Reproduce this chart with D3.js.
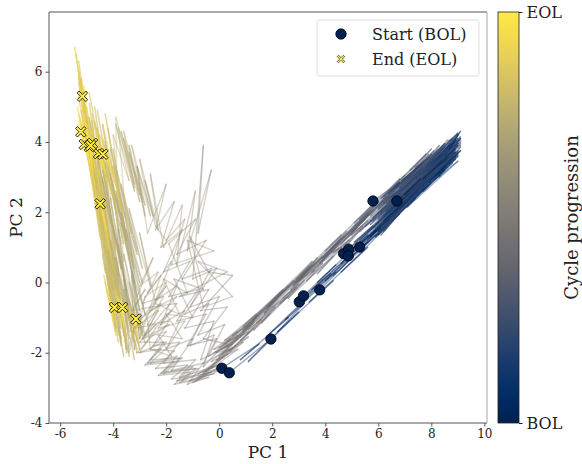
<!DOCTYPE html>
<html>
<head>
<meta charset="utf-8">
<script src="https://cdn.jsdelivr.net/npm/d3@7"></script>
<style>
  body { margin: 0; background: #fff; }
  svg { display: block; font-family: "DejaVu Serif", serif; }
</style>
</head>
<body>
<svg id="chart" width="582" height="464"></svg>
<script>
// start / end of each cell
const startPts = [[0.10,-2.44],[0.38,-2.57],[1.95,-1.61],[3.02,-0.55],[3.18,-0.38],[3.79,-0.21],
                  [4.69,0.82],[4.88,0.95],[4.87,0.76],[5.30,1.01],[5.80,2.32],[6.70,2.32]];
const endPts = [[-5.16,5.30],[-5.22,4.29],[-5.09,3.93],[-4.90,3.87],[-4.78,3.96],[-4.55,3.67],
                [-4.39,3.65],[-4.49,2.24],[-3.95,-0.71],[-3.65,-0.71],[-3.14,-1.04],[-4.85,3.90]];

// PC1/PC2 of every cycle, per cell, in cycle order
const cell01 = [[0.10,-2.44],[1.5,-1.75],[0.8,-2.20],[2.6,-1.00],[1.9,-1.45],[3.7,-0.15],[2.9,-0.60],[4.9,0.75],[4.0,0.05],[6.1,1.55],[5.2,1.05],[7.3,2.40],[6.4,1.85],[8.4,3.20],[7.6,2.70],[8.9,3.55],
  [6.2,1.70],[8.6,3.70],[5.8,1.55],[8.1,3.35],[6.5,2.20],[9.0,3.70],[6.0,1.35],[8.7,3.40],[7.0,2.75],[9.1,4.10],
  [8.3,3.70],[7.0,2.65],[7.6,3.25],[6.0,1.95],[6.6,2.50],[5.0,1.35],[5.6,1.75],[4.0,0.75],[4.6,1.00],[3.0,0.05],[3.6,0.35],[2.0,-0.70],[2.6,-0.40],[1.1,-1.35],[1.6,-1.05],[0.4,-1.95],[0.9,-1.70],[-0.2,-2.35],
  [-0.8,-2.70],[-0.2,-2.60],[-1.5,-2.85],[-0.9,-2.45],[-2.1,-2.60],[-1.4,-2.15],[-2.6,-2.30],[-1.9,-1.80],[-1.3,-1.10],[-2.3,-1.30],[-1.6,-0.60],[-2.6,-0.70],[-2.0,-0.10],[-2.9,-1.20],
  [-3.0,-1.6],[-3.3,0.6],[-2.8,-0.9],[-3.5,1.5],[-2.9,0.0],[-3.8,2.6],[-3.1,0.8],[-4.0,3.3],[-3.4,1.4],[-4.3,4.0],
  [-3.6,-1.5],[-4.5,3.0],[-3.8,-0.8],[-4.8,4.2],[-4.0,-0.2],[-5.0,5.0],[-4.2,0.6],[-5.2,5.8],[-4.4,1.4],[-5.3,6.3],[-4.5,2.0],[-5.45,6.7],[-4.6,2.6],[-5.3,6.0],[-4.7,3.2],[-5.2,5.6],[-4.8,3.6],[-5.3,5.9],[-4.9,4.2],[-5.1,5.6],[-5.0,4.8],[-5.16,5.30]];
const cell02 = [[0.38,-2.57],[1.8,-1.70],[1.1,-2.25],[3.0,-0.85],[2.2,-1.40],[4.3,0.05],[3.4,-0.55],[5.6,1.00],[4.6,0.30],[6.8,1.95],[5.9,1.30],[8.0,2.85],[7.1,2.15],[9.0,3.45],[8.1,2.90],[9.1,3.85],
  [6.0,1.45],[8.7,3.75],[5.6,1.30],[8.2,3.10],[6.4,2.30],[9.0,3.95],[6.2,1.55],[8.5,3.20],[7.1,2.80],[9.1,4.05],
  [8.6,4.05],[7.3,2.95],[7.9,3.55],[6.3,2.05],[6.9,2.70],[5.3,1.45],[5.9,1.85],[4.3,0.85],[4.9,1.20],[3.3,0.05],[3.9,0.55],[2.3,-0.60],[2.9,-0.15],[1.3,-1.35],[1.9,-0.90],[0.6,-1.80],[1.1,-1.55],[0.0,-2.15],
  [-0.6,-2.60],[0.0,-2.50],[-1.2,-2.90],[-0.6,-2.30],[-1.8,-2.50],[-1.0,-1.60],[-2.0,-1.90],[-1.3,-0.80],[-2.2,-1.20],[-1.6,-0.10],[-2.4,-0.50],[-1.8,0.60],[-2.7,-0.30],[-2.2,0.20],
  [-3.0,-1.6],[-3.4,0.8],[-3.0,-0.8],[-3.7,1.7],[-3.2,0.0],[-3.9,2.4],[-3.3,0.6],[-4.1,3.0],[-3.5,1.2],[-4.3,3.6],
  [-3.7,-1.7],[-4.6,3.4],[-3.9,-1.0],[-4.9,4.4],[-4.1,-0.3],[-5.1,5.2],[-4.3,0.5],[-5.3,5.7],[-4.5,1.3],[-5.2,4.9],[-4.6,1.9],[-5.3,5.3],[-4.7,2.5],[-5.3,4.8],[-4.8,3.0],[-5.35,5.0],[-4.9,3.4],[-5.3,4.6],[-5.0,3.7],[-5.35,4.5],[-5.1,4.0],[-5.22,4.29]];
const cell03 = [[1.95,-1.61],[3.2,-0.60],[2.5,-1.05],[4.4,0.30],[3.6,-0.20],[5.6,1.15],[4.8,0.60],[6.8,2.00],[6.0,1.45],[7.9,2.80],[7.1,2.25],[8.8,3.40],[8.0,2.95],[9.0,3.70],[8.4,3.20],[8.7,3.55],
  [5.9,1.30],[8.5,3.70],[6.3,2.05],[8.9,3.50],[5.7,1.65],[8.3,3.55],[6.6,1.90],[9.0,4.00],[6.1,1.95],[8.8,3.85],
  [8.0,3.55],[6.9,2.60],[7.4,3.05],[5.9,1.90],[6.4,2.40],[4.8,1.05],[5.4,1.60],[3.7,0.25],[4.3,0.75],[2.6,-0.45],[3.2,0.05],[1.6,-1.15],[2.1,-0.70],[0.8,-1.65],[1.3,-1.30],[0.3,-2.05],[0.7,-1.90],[-0.2,-2.40],
  [-0.9,-2.80],[-0.3,-2.55],[-1.6,-2.80],[-1.0,-2.40],[-2.2,-2.60],[-1.6,-2.10],[-2.7,-2.30],[-2.1,-1.70],[-3.0,-2.00],[-2.4,-1.30],[-1.8,-0.80],[-2.8,-1.50],[-2.2,-0.60],[-3.1,-1.10],
  [-3.4,-2.0],[-3.6,0.2],[-3.2,-1.4],[-3.8,0.9],[-3.3,-0.8],[-4.0,1.6],[-3.5,-0.2],[-4.2,2.3],[-3.7,0.4],[-4.4,2.9],
  [-3.5,-1.9],[-4.5,2.6],[-3.7,-1.3],[-4.7,3.4],[-3.9,-0.6],[-4.9,4.2],[-4.1,0.1],[-5.0,4.7],[-4.3,0.8],[-5.1,4.9],[-4.4,1.4],[-5.2,4.5],[-4.5,2.0],[-5.1,4.3],[-4.6,2.5],[-5.2,4.6],[-4.7,2.9],[-5.1,4.2],[-4.8,3.2],[-5.2,4.4],[-4.95,3.6],[-5.09,3.93]];
const cell04 = [[3.02,-0.55],[4.2,0.25],[3.5,-0.20],[5.4,1.10],[4.6,0.55],[6.6,1.95],[5.8,1.40],[7.7,2.70],[6.9,2.15],[8.6,3.30],[7.9,2.85],[9.1,3.75],[8.4,3.25],[9.0,4.10],[8.2,3.40],[8.8,3.60],
  [6.1,1.50],[8.9,4.00],[5.5,1.60],[8.4,3.30],[6.7,2.45],[9.1,3.75],[6.0,1.70],[8.6,3.85],[7.2,2.50],[8.9,3.50],
  [7.8,3.30],[8.3,3.90],[6.8,2.70],[7.4,3.20],[5.7,1.90],[6.3,2.45],[4.6,1.10],[5.2,1.55],[3.5,0.30],[4.1,0.80],[2.4,-0.45],[3.0,-0.05],[1.4,-1.15],[2.0,-0.70],[0.6,-1.60],[1.1,-1.40],[0.1,-1.90],[0.5,-1.75],
  [-0.4,-2.10],[0.2,-1.20],[-0.8,-1.50],[0.0,-0.40],[-1.1,-0.70],[-0.3,0.40],[-1.4,0.10],[-0.5,1.20],[-1.6,0.80],[-0.9,1.80],[-1.9,1.10],[-1.2,-0.30],[-2.1,0.10],[-1.5,-0.90],
  [-2.4,-0.6],[-3.0,1.4],[-2.6,-0.1],[-3.4,2.1],[-2.9,0.4],[-3.7,2.8],[-3.1,0.9],[-3.9,3.3],[-3.3,1.4],[-4.1,3.8],
  [-3.6,-0.6],[-4.4,3.0],[-3.8,0.0],[-4.6,3.8],[-4.0,0.6],[-4.8,4.6],[-4.2,1.2],[-4.9,5.1],[-4.3,1.8],[-5.0,4.7],[-4.4,2.3],[-5.1,4.4],[-4.5,2.7],[-5.0,4.5],[-4.6,3.0],[-5.1,4.2],[-4.7,3.3],[-5.0,4.3],[-4.8,3.5],[-5.05,4.1],[-4.85,3.7],[-4.90,3.87]];
const cell05 = [[3.18,-0.38],[4.4,0.50],[3.7,0.00],[5.6,1.35],[4.8,0.80],[6.8,2.20],[6.0,1.60],[7.9,2.95],[7.1,2.40],[8.8,3.55],[8.0,3.00],[9.0,3.95],[8.3,3.30],[8.9,3.80],[8.1,3.10],[8.6,3.40],
  [5.8,1.85],[8.4,3.70],[6.2,1.50],[8.9,3.90],[5.6,1.20],[8.2,3.40],[6.8,2.60],[9.1,4.15],[6.3,1.75],[8.7,3.65],
  [7.6,3.35],[8.1,3.75],[6.5,2.55],[7.1,3.00],[5.5,1.85],[6.0,2.30],[4.4,1.05],[5.0,1.50],[3.3,0.30],[3.9,0.75],[2.3,-0.35],[2.8,0.05],[1.3,-1.05],[1.8,-0.65],[0.5,-1.50],[1.0,-1.25],[0.0,-1.85],[0.4,-1.60],
  [-0.6,-2.40],[-0.2,-1.50],[-1.1,-1.80],[-0.4,-0.60],[-1.3,-0.90],[-0.1,0.40],[-1.0,0.10],[-0.6,3.90],[-0.8,1.40],[-0.3,3.20],[-1.2,0.90],[-0.9,2.60],[-1.6,0.50],[-1.4,2.20],
  [-2.1,1.0],[-2.6,3.1],[-2.3,1.5],[-3.0,3.5],[-2.6,1.9],[-3.3,3.9],[-2.9,2.3],[-3.6,4.3],[-3.2,2.7],[-3.9,4.7],
  [-3.8,0.2],[-4.4,3.6],[-3.9,0.9],[-4.6,4.4],[-4.0,1.5],[-4.7,5.0],[-4.1,2.0],[-4.9,5.4],[-4.2,2.5],[-4.8,4.8],[-4.3,2.9],[-4.9,4.6],[-4.4,3.2],[-4.9,4.4],[-4.5,3.4],[-4.85,4.3],[-4.55,3.6],[-4.9,4.2],[-4.6,3.7],[-4.85,4.1],[-4.7,3.85],[-4.78,3.96]];
const cell06 = [[3.79,-0.21],[5.0,0.70],[4.3,0.20],[6.2,1.55],[5.4,1.00],[7.4,2.40],[6.6,1.85],[8.5,3.20],[7.7,2.60],[9.0,3.60],[8.3,3.00],[8.8,3.90],[8.0,3.20],[8.7,3.45],[7.9,2.90],[8.5,3.30],
  [5.9,1.50],[8.8,3.75],[6.4,2.40],[8.6,3.35],[5.7,1.75],[9.0,4.05],[6.6,2.05],[8.3,3.50],[6.0,1.60],[8.9,3.60],
  [7.4,3.10],[8.0,3.65],[6.3,2.40],[6.9,2.85],[5.2,1.60],[5.8,2.05],[4.1,0.85],[4.7,1.30],[3.0,0.05],[3.6,0.55],[1.9,-0.65],[2.5,-0.20],[1.0,-1.30],[1.5,-0.90],[0.3,-1.70],[0.8,-1.50],[-0.1,-2.00],[0.4,-1.90],
  [-0.6,-2.30],[-0.1,-1.60],[-1.2,-1.80],[-0.5,-0.90],[-1.6,-1.10],[-0.8,-0.20],[-1.9,-0.40],[-1.1,0.60],[-2.1,0.30],[-1.4,1.50],[-2.2,1.00],[-1.7,2.30],[-2.4,1.50],[-2.0,2.80],
  [-2.7,1.4],[-3.1,3.3],[-2.8,1.9],[-3.4,3.9],[-3.0,2.3],[-3.7,4.3],[-3.2,2.6],[-3.9,4.5],[-3.4,2.9],[-4.0,4.2],
  [-3.6,0.6],[-4.3,3.9],[-3.7,1.1],[-4.4,4.5],[-3.8,1.6],[-4.6,4.9],[-3.9,2.0],[-4.7,4.6],[-4.0,2.4],[-4.6,4.3],[-4.1,2.7],[-4.7,4.1],[-4.2,2.9],[-4.6,4.0],[-4.3,3.1],[-4.65,3.9],[-4.35,3.3],[-4.6,3.85],[-4.4,3.4],[-4.6,3.8],[-4.5,3.55],[-4.55,3.67]];
const cell07 = [[4.69,0.82],[5.8,1.60],[5.1,1.15],[7.0,2.45],[6.2,1.90],[8.1,3.20],[7.3,2.65],[8.9,3.80],[8.0,3.05],[9.1,4.10],[8.4,3.40],[8.9,3.60],[8.1,3.30],[8.6,3.75],[7.8,3.05],[8.3,3.45],
  [6.0,1.80],[8.7,3.45],[5.8,1.40],[8.9,4.10],[6.5,2.05],[8.4,3.80],[6.2,2.10],[9.0,3.60],[5.9,1.55],[8.6,3.55],
  [7.2,3.00],[7.8,3.50],[6.1,2.25],[6.7,2.75],[5.0,1.50],[5.6,1.95],[3.9,0.70],[4.5,1.15],[2.8,-0.05],[3.4,0.45],[1.8,-0.75],[2.3,-0.30],[0.9,-1.35],[1.4,-0.95],[0.2,-1.75],[0.7,-1.50],[-0.2,-2.00],[0.3,-1.80],
  [-0.7,-2.20],[-0.2,-1.10],[-1.3,-1.30],[-0.4,-0.20],[-1.5,-0.40],[0.3,0.30],[-0.8,0.60],[0.5,-0.40],[-0.6,-0.70],[-1.2,1.20],[-0.2,0.90],[-1.8,0.50],[-1.3,1.80],[-2.0,1.20],
  [-2.4,1.6],[-2.8,2.9],[-2.5,1.9],[-3.1,3.3],[-2.8,2.2],[-3.4,3.7],[-3.0,2.5],[-3.6,4.1],[-3.2,2.8],[-3.8,4.4],
  [-3.4,0.7],[-4.0,3.8],[-3.5,1.2],[-4.2,4.4],[-3.6,1.7],[-4.3,4.8],[-3.7,2.1],[-4.4,4.5],[-3.8,2.5],[-4.5,4.2],[-3.9,2.8],[-4.4,4.1],[-4.0,3.0],[-4.5,4.0],[-4.1,3.2],[-4.45,3.9],[-4.15,3.35],[-4.5,3.8],[-4.2,3.45],[-4.45,3.75],[-4.3,3.55],[-4.39,3.65]];
const cell08 = [[4.88,0.95],[6.0,1.70],[5.3,1.20],[7.2,2.55],[6.4,2.00],[8.3,3.30],[7.5,2.75],[8.9,3.70],[8.2,3.10],[9.0,4.20],[8.5,3.50],[8.7,3.95],[8.0,3.25],[8.6,3.60],[7.8,3.00],[8.4,3.35],
  [6.3,2.00],[8.9,3.90],[5.6,1.45],[8.5,3.30],[6.9,2.65],[9.1,3.95],[6.1,1.35],[8.7,3.70],[6.5,2.30],[8.8,3.45],
  [7.3,3.15],[7.9,3.65],[6.2,2.40],[6.8,2.85],[5.1,1.60],[5.7,2.05],[4.0,0.80],[4.6,1.25],[2.9,0.00],[3.5,0.50],[1.8,-0.70],[2.4,-0.25],[0.9,-1.40],[1.4,-1.00],[0.2,-1.85],[0.7,-1.60],[-0.3,-2.25],[0.2,-2.10],
  [-0.8,-2.60],[-0.2,-2.40],[-1.5,-2.70],[-0.9,-2.20],[-2.1,-2.30],[-1.5,-1.70],[-2.5,-1.80],[-1.9,-1.10],[-2.7,-1.20],[-2.1,-0.40],[-2.9,-0.60],[-2.3,0.30],[-3.0,-0.10],[-2.5,0.70],
  [-3.1,-0.4],[-3.4,1.4],[-3.0,0.0],[-3.7,2.0],[-3.2,0.4],[-3.9,2.6],[-3.4,0.8],[-4.1,3.1],[-3.6,1.1],[-4.3,3.4],
  [-3.7,-1.0],[-4.4,2.6],[-3.8,-0.5],[-4.5,3.0],[-3.9,-0.1],[-4.6,3.3],[-4.0,0.3],[-4.7,3.0],[-4.1,0.7],[-4.6,2.8],[-4.15,1.0],[-4.65,2.7],[-4.2,1.3],[-4.6,2.6],[-4.25,1.5],[-4.6,2.5],[-4.3,1.7],[-4.55,2.45],[-4.35,1.9],[-4.55,2.35],[-4.4,2.1],[-4.49,2.24]];
const cell09 = [[4.87,0.76],[5.9,1.50],[5.2,1.00],[7.0,2.30],[6.2,1.75],[8.0,3.00],[7.2,2.45],[8.7,3.50],[7.9,2.85],[8.9,3.75],[8.2,3.05],[8.6,3.40],[7.8,2.80],[8.4,3.25],[7.6,2.65],[8.1,3.05],
  [5.9,1.65],[8.6,3.55],[6.2,1.45],[8.9,3.95],[5.7,1.50],[8.3,3.25],[6.6,2.35],[8.8,3.60],[6.0,1.85],[8.5,3.50],
  [7.0,2.85],[7.6,3.30],[6.0,2.15],[6.6,2.60],[4.9,1.35],[5.5,1.80],[3.8,0.55],[4.4,1.00],[2.7,-0.20],[3.3,0.30],[1.7,-0.90],[2.2,-0.45],[0.8,-1.55],[1.3,-1.15],[0.1,-2.05],[0.6,-1.80],[-0.4,-2.45],[0.1,-2.35],
  [-1.0,-2.85],[-0.4,-2.70],[-1.7,-2.90],[-1.1,-2.55],[-2.3,-2.65],[-1.7,-2.25],[-2.8,-2.35],[-2.2,-1.90],[-3.1,-2.00],[-2.5,-1.50],[-1.9,-1.20],[-2.9,-1.60],[-2.3,-0.80],[-3.2,-1.30],
  [-3.5,-2.0],[-3.6,0.1],[-3.2,-1.7],[-3.9,0.7],[-3.4,-1.4],[-4.1,1.2],[-3.6,-1.1],[-4.2,0.9],[-3.7,-1.6],[-4.3,0.5],
  [-3.6,-2.1],[-4.2,0.6],[-3.7,-1.8],[-4.3,1.0],[-3.8,-1.5],[-4.4,0.8],[-3.8,-1.7],[-4.3,0.4],[-3.9,-1.4],[-4.35,0.2],[-3.9,-1.5],[-4.3,0.0],[-3.9,-1.3],[-4.25,-0.2],[-3.85,-1.2],[-4.2,-0.3],[-3.9,-1.1],[-4.15,-0.4],[-3.9,-1.0],[-4.1,-0.5],[-3.92,-0.9],[-3.95,-0.71]];
const cell10 = [[5.30,1.01],[6.4,1.80],[5.7,1.30],[7.5,2.60],[6.7,2.05],[8.5,3.30],[7.7,2.75],[9.0,3.65],[8.3,3.10],[8.8,3.95],[8.0,3.30],[8.6,3.60],[7.8,2.95],[8.5,3.45],[7.7,2.90],[8.2,3.20],
  [6.1,1.60],[8.8,3.60],[5.8,1.75],[8.5,3.85],[6.4,1.95],[9.0,3.75],[6.0,1.40],[8.6,3.45],[6.8,2.45],[9.1,3.90],
  [7.1,2.95],[7.7,3.45],[6.1,2.25],[6.7,2.70],[5.0,1.45],[5.6,1.90],[3.9,0.65],[4.5,1.10],[2.8,-0.10],[3.4,0.40],[1.7,-0.85],[2.3,-0.35],[0.8,-1.50],[1.3,-1.10],[0.0,-2.10],[0.5,-1.85],[-0.5,-2.55],[0.0,-2.45],
  [-1.1,-2.80],[-0.5,-2.60],[-1.8,-2.75],[-1.2,-2.35],[-2.4,-2.45],[-1.7,-1.95],[-2.6,-1.90],[-2.0,-1.40],[-2.9,-1.60],[-2.2,-0.90],[-1.6,-0.40],[-2.6,-0.80],[-2.0,0.00],[-2.8,-0.40],
  [-3.2,-1.9],[-3.3,0.2],[-2.9,-1.5],[-3.6,0.8],[-3.1,-1.2],[-3.8,1.1],[-3.3,-1.4],[-3.9,0.7],[-3.4,-1.6],[-3.9,0.4],
  [-3.4,-2.1],[-3.9,0.2],[-3.5,-1.9],[-4.0,0.5],[-3.5,-1.7],[-4.0,0.1],[-3.5,-1.6],[-3.95,-0.1],[-3.5,-1.5],[-3.9,-0.2],[-3.55,-1.4],[-3.9,-0.3],[-3.55,-1.3],[-3.85,-0.4],[-3.6,-1.2],[-3.8,-0.45],[-3.6,-1.1],[-3.75,-0.5],[-3.6,-1.0],[-3.72,-0.55],[-3.62,-0.9],[-3.65,-0.71]];
const cell11 = [[5.80,2.32],[6.8,2.85],[6.1,2.40],[7.7,3.40],[6.9,2.90],[8.5,3.95],[7.8,3.30],[9.0,4.25],[8.3,3.60],[8.9,4.05],[8.1,3.45],[8.7,3.80],[7.9,3.25],[8.5,3.70],[7.7,3.10],[8.2,3.50],
  [6.4,2.55],[8.8,4.10],[6.0,2.10],[8.6,3.75],[6.7,2.75],[9.0,4.25],[6.2,2.25],[8.4,3.85],[6.9,2.90],[8.9,3.95],
  [7.2,3.20],[7.8,3.65],[6.2,2.45],[6.8,2.95],[5.1,1.70],[5.7,2.15],[4.0,0.90],[4.6,1.35],[2.9,0.10],[3.5,0.60],[1.8,-0.65],[2.4,-0.20],[0.9,-1.25],[1.4,-0.90],[0.2,-1.65],[0.7,-1.40],[-0.2,-1.90],[0.3,-1.75],
  [-0.6,-1.60],[0.3,-0.70],[-0.7,-0.80],[0.5,0.20],[-0.4,0.30],[-1.1,1.30],[-0.6,-0.20],[-1.7,0.10],[-1.0,-1.00],[-2.0,-0.90],[-1.4,-1.60],[-2.3,-1.50],[-1.8,-2.10],[-2.6,-1.90],
  [-2.7,-1.1],[-3.3,0.3],[-2.8,-1.5],[-3.6,-0.2],[-3.0,-1.9],[-3.5,-0.6],[-2.9,-1.4],[-3.4,0.0],[-2.8,-1.7],[-3.5,-0.4],
  [-3.2,-2.2],[-3.7,-0.3],[-3.1,-2.0],[-3.6,-0.5],[-3.1,-1.9],[-3.5,-0.7],[-3.0,-1.8],[-3.5,-0.6],[-3.05,-1.7],[-3.4,-0.8],[-3.05,-1.6],[-3.4,-0.7],[-3.1,-1.5],[-3.35,-0.85],[-3.1,-1.4],[-3.3,-0.9],[-3.1,-1.3],[-3.25,-0.95],[-3.1,-1.2],[-3.2,-1.0],[-3.12,-1.15],[-3.14,-1.04]];
const cell12 = [[6.70,2.32],[7.6,2.95],[7.0,2.50],[8.4,3.45],[7.7,2.95],[9.0,3.90],[8.3,3.35],[9.1,4.30],[8.5,3.60],[8.9,3.70],[8.1,3.25],[8.8,4.00],[8.0,3.40],[8.6,3.75],[7.9,3.20],[8.4,3.55],
  [6.5,2.45],[9.0,4.20],[6.1,2.00],[8.7,3.65],[6.8,2.70],[9.1,4.00],[6.3,2.25],[8.5,3.90],[7.0,2.65],[8.9,3.85],
  [7.4,3.30],[8.0,3.80],[6.4,2.60],[7.0,3.05],[5.3,1.80],[5.9,2.25],[4.2,0.95],[4.8,1.45],[3.1,0.20],[3.7,0.70],[2.0,-0.55],[2.6,-0.10],[1.0,-1.25],[1.6,-0.80],[0.3,-1.85],[0.8,-1.55],[-0.1,-2.20],[0.3,-2.05],
  [-0.6,-2.55],[-0.1,-2.35],[-1.4,-2.80],[-0.8,-2.45],[-2.1,-2.55],[-1.5,-2.15],[-2.6,-2.20],[-2.0,-1.70],[-3.0,-1.70],[-2.4,-1.20],[-3.2,-1.30],[-2.6,-0.70],[-3.3,-0.80],[-2.8,-0.20],
  [-3.4,-1.0],[-3.8,1.5],[-3.5,-0.3],[-4.1,2.4],[-3.7,0.4],[-4.4,3.2],[-3.9,1.1],[-4.7,4.0],[-4.1,1.7],[-4.9,4.7],
  [-3.9,-1.3],[-4.8,3.6],[-4.1,-0.5],[-5.0,4.6],[-4.3,0.3],[-5.2,5.4],[-4.4,1.0],[-5.3,6.0],[-4.5,1.7],[-5.4,6.5],[-4.6,2.3],[-5.3,5.8],[-4.7,2.8],[-5.2,5.2],[-4.75,3.2],[-5.1,4.8],[-4.8,3.4],[-5.0,4.5],[-4.8,3.6],[-5.0,4.2],[-4.82,3.75],[-4.85,3.90]];

const cells = [cell01, cell02, cell03, cell04, cell05, cell06, cell07, cell08, cell09, cell10, cell11, cell12];

const xTicks = [-6, -4, -2, 0, 2, 4, 6, 8, 10];
const yTicks = [-4, -2, 0, 2, 4, 6];
const cbarLabels = ['BOL', 'EOL'];

const svg = d3.select('#chart');
const mLeft = 49, mRight = 487, mTop = 12, mBottom = 423;

const x = d3.scaleLinear().domain([-6.42, 10.1]).range([mLeft, mRight]);
const y = d3.scaleLinear().domain([-4, 7.7]).range([mBottom, mTop]);
const cmap = d3.interpolateCividis;

const plot = svg.append('g');
plot.append('clipPath').attr('id', 'clip')
  .append('rect').attr('x', mLeft).attr('y', mTop).attr('width', mRight - mLeft).attr('height', mBottom - mTop);

// segments coloured by cycle progression
const segs = [];
cells.forEach(c => {
  for (let i = 0; i < c.length - 1; i++) {
    segs.push({a: c[i], b: c[i + 1], t: i / (c.length - 2)});
  }
});
plot.append('g').attr('clip-path', 'url(#clip)')
  .selectAll('line').data(segs).join('line')
  .attr('x1', d => x(d.a[0])).attr('y1', d => y(d.a[1]))
  .attr('x2', d => x(d.b[0])).attr('y2', d => y(d.b[1]))
  .attr('stroke', d => cmap(d.t))
  .attr('stroke-opacity', 0.4)
  .attr('stroke-width', 1.4)
  .attr('stroke-linecap', 'round');

// X marker (matplotlib 'X')
function xPath(s) {
  const a = s * 0.5, w = s * 0.18;
  return `M${-a + w},${-a} L0,${-w} L${a - w},${-a} L${a},${-a + w} L${w},0 L${a},${a - w} L${a - w},${a} L0,${w} L${-a + w},${a} L${-a},${a - w} L${-w},0 L${-a},${-a + w}Z`;
}

plot.append('g').selectAll('circle').data(startPts).join('circle')
  .attr('cx', d => x(d[0])).attr('cy', d => y(d[1])).attr('r', 5.2)
  .attr('fill', cmap(0)).attr('stroke', '#000').attr('stroke-width', 0.8);

plot.append('g').selectAll('path').data(endPts).join('path')
  .attr('transform', d => `translate(${x(d[0])},${y(d[1])})`)
  .attr('d', xPath(10.5))
  .attr('fill', cmap(1)).attr('stroke', '#000').attr('stroke-width', 0.8);

// axes
const xAxis = svg.append('g').attr('transform', `translate(0,${mBottom})`)
  .call(d3.axisBottom(x).tickValues(xTicks).tickSize(3.5).tickPadding(3).tickFormat(d3.format('d')));
const yAxis = svg.append('g').attr('transform', `translate(${mLeft},0)`)
  .call(d3.axisLeft(y).tickValues(yTicks).tickSize(3.5).tickPadding(3).tickFormat(d3.format('d')));
[xAxis, yAxis].forEach(g => {
  g.select('.domain').remove();
  g.selectAll('line').attr('stroke', '#555');
  g.selectAll('text').attr('font-size', 12).attr('fill', '#222').attr('font-family', '"DejaVu Serif", serif')
    .text(d => String(d));
});

svg.append('line').attr('x1', mLeft).attr('x2', mLeft).attr('y1', mTop).attr('y2', mBottom).attr('stroke', '#555');
svg.append('line').attr('x1', mLeft).attr('x2', mRight).attr('y1', mBottom).attr('y2', mBottom).attr('stroke', '#555');
svg.append('line').attr('x1', mLeft).attr('x2', mRight).attr('y1', mTop).attr('y2', mTop).attr('stroke', '#555');
svg.append('line').attr('x1', mRight).attr('x2', mRight).attr('y1', mTop).attr('y2', mBottom).attr('stroke', '#aaa');

svg.append('text').attr('x', (mLeft + mRight) / 2).attr('y', 458).attr('text-anchor', 'middle')
  .attr('font-size', 17).attr('fill', '#222').text('PC 1');
svg.append('text').attr('transform', `translate(22,${(mTop + mBottom) / 2}) rotate(-90)`).attr('text-anchor', 'middle')
  .attr('font-size', 17).attr('fill', '#222').text('PC 2');

// legend
const lg = svg.append('g').attr('transform', 'translate(317,20)');
lg.append('rect').attr('width', 162).attr('height', 56).attr('rx', 3)
  .attr('fill', '#fff').attr('fill-opacity', 0.8).attr('stroke', '#ddd');
lg.append('circle').attr('cx', 24).attr('cy', 14).attr('r', 5.2)
  .attr('fill', cmap(0)).attr('stroke', '#000').attr('stroke-width', 0.8);
lg.append('path').attr('transform', 'translate(24,39)').attr('d', xPath(7.5))
  .attr('fill', cmap(1)).attr('stroke', '#000').attr('stroke-width', 0.6);
lg.append('text').attr('x', 55).attr('y', 20).attr('font-size', 16).attr('fill', '#222').text('Start (BOL)');
lg.append('text').attr('x', 55).attr('y', 45).attr('font-size', 16).attr('fill', '#222').text('End (EOL)');

// colorbar
const cbX = 498, cbW = 21;
const grad = svg.append('defs').append('linearGradient').attr('id', 'cb')
  .attr('x1', 0).attr('x2', 0).attr('y1', 1).attr('y2', 0);
d3.range(0, 1.0001, 0.05).forEach(t => {
  grad.append('stop').attr('offset', t).attr('stop-color', cmap(t));
});
svg.append('rect').attr('x', cbX).attr('y', mTop).attr('width', cbW).attr('height', mBottom - mTop)
  .attr('fill', 'url(#cb)').attr('stroke', '#222').attr('stroke-width', 0.8);
const cbScale = d3.scaleLinear().domain([0, 1]).range([mBottom, mTop]);
const cbAxis = svg.append('g').attr('transform', `translate(${cbX + cbW},0)`)
  .call(d3.axisRight(cbScale).tickValues([0, 1]).tickSize(3.5).tickPadding(4).tickFormat((d, i) => cbarLabels[i]));
cbAxis.select('.domain').remove();
cbAxis.selectAll('line').attr('stroke', '#222');
cbAxis.selectAll('text').attr('font-size', 16).attr('fill', '#222').attr('font-family', '"DejaVu Serif", serif');
svg.append('text').attr('transform', `translate(578,${(mTop + mBottom) / 2}) rotate(-90)`).attr('text-anchor', 'middle')
  .attr('font-size', 18).attr('fill', '#222').text('Cycle progression');
</script>
</body>
</html>
